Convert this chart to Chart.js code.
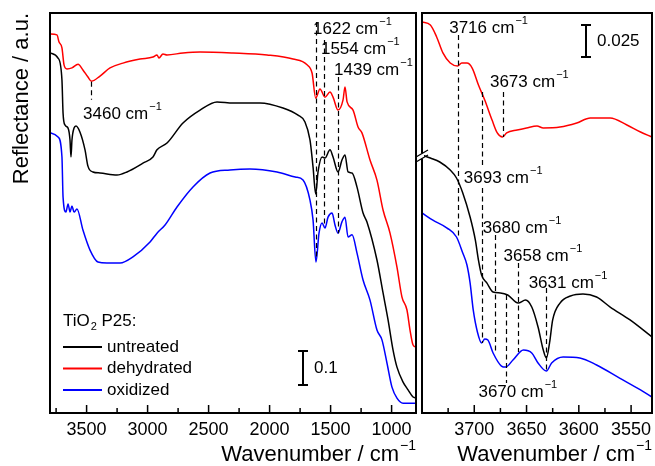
<!DOCTYPE html>
<html>
<head>
<meta charset="utf-8">
<script src="https://cdn.jsdelivr.net/npm/chart.js@4.4.1/dist/chart.umd.min.js"></script>
<style>
  body { margin: 0; background: #fff; }
  #wrap { position: relative; width: 655px; height: 466px; }
  canvas { position: absolute; left: 0; top: 0; }
</style>
</head>
<body>
<div id="wrap">
  <canvas id="left" width="655" height="466"></canvas>
  <canvas id="right" width="655" height="466"></canvas>
</div>
<script>
// sample names (legend order)
const seriesNames = ["untreated", "dehydrated", "oxidized"];

// left panel: full range, 3800 - 800 cm-1
const leftBlackWn = [3800,3734,3702,3693,3677,3652,3636,3628,3620,3603,3587,3554,3513,3489,3448,3390,3251,3169,3038,2956,2923,2841,2710,2570,2431,2300,2079,1890,1767,1710,1669,1644,1622,1603,1570,1546,1505,1480,1439,1407,1382,1357,1324,1284,1234,1202,1120,1070,1029,988,956,906,865,824,800];
const leftBlackR = [1.059,1.044,0.979,0.882,0.847,0.838,0.803,0.753,0.803,0.838,0.844,0.826,0.774,0.726,0.709,0.706,0.700,0.709,0.735,0.753,0.774,0.794,0.853,0.891,0.915,0.912,0.912,0.897,0.876,0.856,0.803,0.724,0.644,0.709,0.753,0.750,0.774,0.753,0.709,0.744,0.759,0.709,0.706,0.665,0.588,0.562,0.450,0.353,0.274,0.185,0.135,0.091,0.068,0.047,0.044];

const leftRedWn = [3800,3743,3726,3702,3685,3661,3620,3570,3530,3489,3460,3390,3308,3202,3062,2956,2923,2907,2874,2841,2710,2570,2300,2021,1808,1693,1652,1622,1587,1546,1505,1480,1439,1398,1382,1365,1316,1275,1243,1177,1120,1070,1013,956,915,874,849,824,800];
const leftRedR = [1.115,1.112,1.091,1.074,1.024,1.012,1.015,1.026,1.009,0.988,0.976,0.991,1.015,1.029,1.041,1.047,1.053,1.044,1.056,1.053,1.059,1.062,1.059,1.053,1.041,1.024,1.000,0.926,0.953,0.929,0.944,0.929,0.891,0.921,0.959,0.915,0.891,0.841,0.824,0.744,0.685,0.597,0.529,0.429,0.341,0.303,0.244,0.200,0.194];

const leftBlueWn = [3800,3734,3702,3693,3669,3652,3636,3620,3603,3579,3530,3472,3407,3333,3226,3120,2980,2923,2857,2759,2628,2488,2325,2161,1939,1790,1726,1669,1644,1620,1595,1570,1546,1521,1488,1464,1439,1407,1382,1357,1324,1284,1234,1177,1120,1079,1038,997,956,906,800];
const leftBlueR = [0.824,0.812,0.753,0.635,0.591,0.615,0.591,0.609,0.591,0.600,0.538,0.479,0.444,0.441,0.441,0.459,0.503,0.529,0.553,0.606,0.665,0.706,0.715,0.718,0.709,0.694,0.685,0.626,0.568,0.444,0.529,0.559,0.544,0.576,0.588,0.553,0.529,0.562,0.576,0.518,0.524,0.471,0.391,0.332,0.244,0.215,0.147,0.076,0.044,0.029,0.029];

// right panel: OH region, 3750 - 3530 cm-1
const rightBlackWn = [3750,3742,3733,3723,3717,3711,3704,3699,3696,3693,3688,3682,3675,3668,3658,3651,3645,3639,3634,3631,3628,3625,3618,3608,3596,3583,3570,3551,3530];
const rightBlackR = [0.2016,0.1992,0.1961,0.1898,0.1836,0.1719,0.1531,0.1352,0.1195,0.1078,0.1016,0.0945,0.0938,0.0922,0.0859,0.0883,0.0828,0.0672,0.0492,0.0430,0.0547,0.0727,0.0859,0.0914,0.0930,0.0906,0.0828,0.0727,0.0594];

const rightRedWn = [3750,3742,3736,3730,3723,3716,3712,3707,3702,3696,3690,3683,3678,3673,3669,3659,3650,3640,3634,3618,3602,3589,3570,3554,3541,3530];
const rightRedR = [0.3055,0.3031,0.2938,0.2813,0.2734,0.2711,0.2734,0.2734,0.2695,0.2563,0.2445,0.2289,0.2188,0.2156,0.2188,0.2211,0.2227,0.2242,0.2227,0.2234,0.2266,0.2305,0.2305,0.2250,0.2195,0.2156];

const rightBlueWn = [3750,3740,3726,3717,3711,3707,3704,3701,3697,3693,3690,3687,3682,3674,3670,3663,3653,3645,3639,3631,3626,3615,3599,3583,3561,3541,3530];
const rightBlueR = [0.1563,0.1508,0.1445,0.1375,0.1250,0.1156,0.1016,0.0805,0.0633,0.0547,0.0578,0.0570,0.0469,0.0367,0.0359,0.0414,0.0492,0.0469,0.0391,0.0328,0.0391,0.0438,0.0430,0.0375,0.0273,0.0180,0.0125];

// tick values
const leftMajorTicks = [3500, 3000, 2500, 2000, 1500, 1000];
const leftMinorTicks = [3750, 3250, 2750, 2250, 1750, 1250];
const rightMajorTicks = [3700, 3650, 3600, 3550];
const rightMinorTicks = [3725, 3675, 3625, 3575];

const FONT = '"Liberation Sans", Arial, Helvetica, sans-serif';
const colors = ["#000000", "#ff0000", "#0000ff"];

function pts(wn, r) {
  return wn.map((w, i) => ({ x: w, y: r[i] }));
}

// text with a superscript part (cm-1)
function supText(ctx, x, y, main, sup, size, align) {
  ctx.textBaseline = "middle";
  ctx.textAlign = "left";
  ctx.font = size + "px " + FONT;
  const w1 = ctx.measureText(main).width;
  const ss = Math.round(size * 0.64);
  ctx.font = ss + "px " + FONT;
  const w2 = ctx.measureText(sup).width;
  if (align === "right") x -= w1 + 1 + w2;
  ctx.font = size + "px " + FONT;
  ctx.fillText(main, x, y);
  ctx.font = ss + "px " + FONT;
  ctx.fillText(sup, x + w1 + 1, y - size * 0.4);
}

// frame, inward ticks, dashed peak marks, scale bar, titles
const decor = {
  id: "decor",
  afterDatasetsDraw(chart, args, o) {
    const ctx = chart.ctx;
    const a = chart.chartArea;
    const xs = chart.scales.x, ys = chart.scales.y;
    ctx.save();
    ctx.fillStyle = "#000";
    ctx.strokeStyle = "#000";

    ctx.lineWidth = 2;
    ctx.strokeRect(a.left, a.top, a.right - a.left, a.bottom - a.top);

    ctx.lineWidth = 1.5;
    ctx.beginPath();
    o.major.forEach(v => {
      const x = xs.getPixelForValue(v);
      ctx.moveTo(x, a.bottom); ctx.lineTo(x, a.bottom - 8);
    });
    o.minor.forEach(v => {
      const x = xs.getPixelForValue(v);
      ctx.moveTo(x, a.bottom); ctx.lineTo(x, a.bottom - 5);
    });
    ctx.stroke();

    ctx.setLineDash([5, 3.5]);
    ctx.lineWidth = 1.2;
    o.marks.forEach(m => {
      const x = Math.round(xs.getPixelForValue(m.wn)) + 0.5;
      m.spans.forEach(s => {
        ctx.beginPath();
        ctx.moveTo(x, ys.getPixelForValue(s[0]));
        ctx.lineTo(x, ys.getPixelForValue(s[1]));
        ctx.stroke();
      });
    });
    ctx.setLineDash([]);
    o.marks.forEach(m => {
      supText(ctx, xs.getPixelForValue(m.lx), ys.getPixelForValue(m.ly), m.wn + " cm", "\u22121", 17);
    });

    const b = o.bar;
    const bx = Math.round(xs.getPixelForValue(b.wn));
    const y1 = ys.getPixelForValue(b.y0), y2 = ys.getPixelForValue(b.y0 + b.size);
    ctx.lineWidth = 2;
    ctx.beginPath();
    ctx.moveTo(bx, y1); ctx.lineTo(bx, y2);
    ctx.moveTo(bx - 5, y1); ctx.lineTo(bx + 5, y1);
    ctx.moveTo(bx - 5, y2); ctx.lineTo(bx + 5, y2);
    ctx.stroke();
    ctx.font = "17px " + FONT;
    ctx.textBaseline = "middle";
    ctx.textAlign = "left";
    ctx.fillText(b.text, bx + 11, (y1 + y2) / 2);

    supText(ctx, a.right, 455, "Wavenumber / cm", "\u22121", 22, "right");

    if (o.yTitle) {
      ctx.save();
      ctx.translate(22, a.top);
      ctx.rotate(-Math.PI / 2);
      ctx.font = "22px " + FONT;
      ctx.textAlign = "right";
      ctx.textBaseline = "middle";
      ctx.fillText(o.yTitle, 0, 0);
      ctx.restore();
    }

    if (o.legend) {
      const L = o.legend;
      ctx.font = "17px " + FONT;
      ctx.textAlign = "left";
      ctx.textBaseline = "middle";
      ctx.fillText("TiO", L.x, L.y);
      const w = ctx.measureText("TiO").width;
      ctx.font = "11px " + FONT;
      ctx.fillText("2", L.x + w + 1, L.y + 6);
      ctx.font = "17px " + FONT;
      ctx.fillText(" P25:", L.x + w + 7, L.y);
      chart.data.datasets.forEach((ds, i) => {
        const yy = L.y + L.first + i * L.step;
        ctx.strokeStyle = ds.borderColor;
        ctx.lineWidth = 2;
        ctx.beginPath();
        ctx.moveTo(L.x, yy); ctx.lineTo(L.x + 39, yy);
        ctx.stroke();
        ctx.fillStyle = "#000";
        ctx.fillText(ds.label, L.x + 44, yy);
      });
    }

    if (o.brk) {
      const x = a.left, yc = o.brk;
      ctx.fillStyle = "#fff";
      ctx.fillRect(x - 2, yc - 2.5, 4, 5);
      ctx.strokeStyle = "#000";
      ctx.lineWidth = 1.3;
      ctx.beginPath();
      ctx.moveTo(x - 6, yc + 1); ctx.lineTo(x + 6, yc - 6);
      ctx.moveTo(x - 6, yc + 6); ctx.lineTo(x + 6, yc - 1);
      ctx.stroke();
    }
    ctx.restore();
  }
};

function makeChart(id, sets, xmin, xmax, ymax, major, minor, padding, deco) {
  const allTicks = major.concat(minor).sort((p, q) => p - q);
  return new Chart(document.getElementById(id), {
    type: "line",
    data: {
      datasets: sets.map((s, i) => ({
        label: seriesNames[i],
        data: s,
        borderColor: colors[i],
        borderWidth: 1.5,
        pointRadius: 0,
        fill: false,
        cubicInterpolationMode: "monotone"
      }))
    },
    options: {
      responsive: false,
      animation: false,
      layout: { padding: padding },
      plugins: { legend: { display: false }, tooltip: { enabled: false }, decor: deco },
      scales: {
        x: {
          type: "linear",
          reverse: true,
          min: xmin,
          max: xmax,
          afterFit: s => { s.height = 53; },
          afterBuildTicks: s => { s.ticks = allTicks.map(v => ({ value: v })); },
          grid: { display: false, drawTicks: false },
          border: { display: false },
          ticks: {
            autoSkip: false,
            maxRotation: 0,
            padding: 6,
            color: "#000",
            font: { family: FONT, size: 18 },
            callback: v => (major.includes(v) ? v : "")
          }
        },
        y: { display: false, min: 0, max: ymax }
      }
    },
    plugins: [decor]
  });
}

makeChart("left",
  [pts(leftBlackWn, leftBlackR), pts(leftRedWn, leftRedR), pts(leftBlueWn, leftBlueR)],
  800, 3800, 400 / 340, leftMajorTicks, leftMinorTicks,
  { left: 50, right: 239, top: 13, bottom: 0 },
  {
    major: leftMajorTicks, minor: leftMinorTicks,
    marks: [
      { wn: 3460, spans: [[0.974, 0.921]], lx: 3529, ly: 0.879 },
      { wn: 1622, spans: [[1.150, 0.459]], lx: 1644, ly: 1.129 },
      { wn: 1554, spans: [[1.097, 0.550]], lx: 1579, ly: 1.071 },
      { wn: 1439, spans: [[0.988, 0.529]], lx: 1472, ly: 1.009 }
    ],
    bar: { wn: 1726, y0: 0.082, size: 0.1, text: "0.1" },
    yTitle: "Reflectance / a.u.",
    legend: { x: 63, y: 321, first: 26, step: 21.5 }
  });

makeChart("right",
  [pts(rightBlackWn, rightBlackR), pts(rightRedWn, rightRedR), pts(rightBlueWn, rightBlueR)],
  3530, 3750, 400 / 1280, rightMajorTicks, rightMinorTicks,
  { left: 422, right: 3, top: 13, bottom: 0 },
  {
    major: rightMajorTicks, minor: rightMinorTicks,
    marks: [
      { wn: 3716, spans: [[0.2953, 0.1375]], lx: 3724, ly: 0.3008 },
      { wn: 3673, spans: [[0.2508, 0.2156]], lx: 3685, ly: 0.2586 },
      { wn: 3693, spans: [[0.2508, 0.1914], [0.1758, 0.0547]], lx: 3710, ly: 0.1836 },
      { wn: 3680, spans: [[0.1391, 0.0477]], lx: 3692, ly: 0.1445 },
      { wn: 3658, spans: [[0.1172, 0.0477]], lx: 3672, ly: 0.1227 },
      { wn: 3631, spans: [[0.0977, 0.0336]], lx: 3648, ly: 0.1016 },
      { wn: 3670, spans: [[0.0922, 0.0234]], lx: 3696, ly: 0.0164 }
    ],
    bar: { wn: 3593, y0: 0.2781, size: 0.025, text: "0.025" },
    brk: 156
  });
</script>
</body>
</html>
